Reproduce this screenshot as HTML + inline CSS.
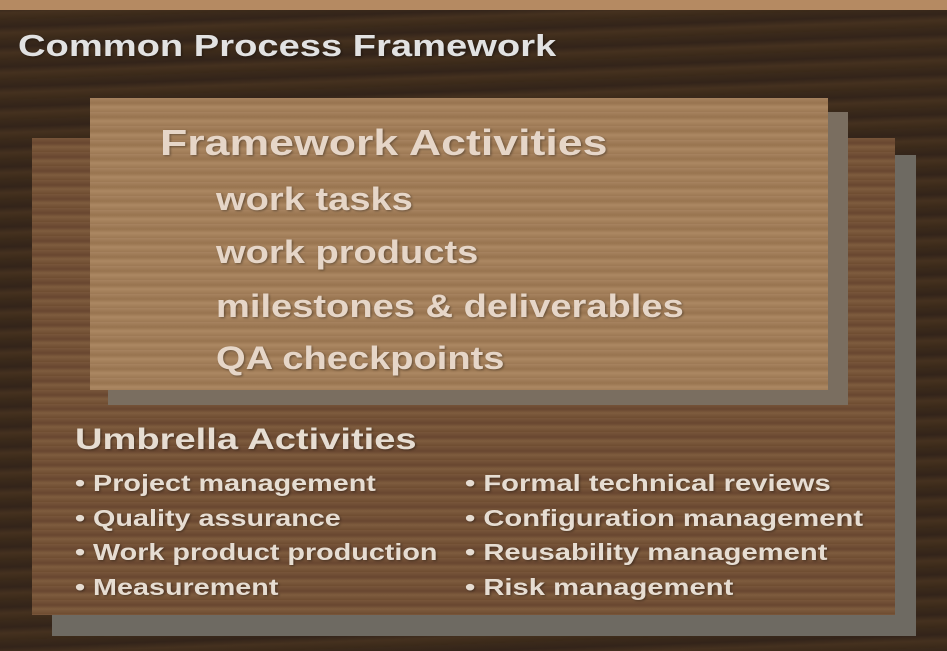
<!DOCTYPE html>
<html><head><meta charset="utf-8"><style>
body{margin:0;width:947px;height:651px;overflow:hidden;position:relative;font-family:"Liberation Sans",sans-serif;font-weight:bold;
background:repeating-linear-gradient(178deg,#3b2a1b 0px,#33241a 7px,#45311f 13px,#3a2919 20px);}
.abs{position:absolute}
.t{color:#e6ddd2;white-space:nowrap;transform-origin:0 0;transform:scaleX(1.24);text-shadow:1px 1px 2px rgba(0,0,0,0.35)}
</style></head><body>
<div class="abs" style="left:0;top:0;width:947px;height:10px;background:#b58a62"></div>
<div class="abs t" style="left:18px;top:28px;font-size:31px;color:#e2e2e2;transform:scaleX(1.23)">Common Process Framework</div>

<div class="abs" style="left:52px;top:155px;width:864px;height:481px;background:#6e6a62"></div>
<div class="abs" style="left:32px;top:138px;width:863px;height:477px;background:repeating-linear-gradient(180deg,#78553a 0px,#684630 5px,#7e5c3e 9px,#6e4c31 14px)"></div>

<div class="abs" style="left:108px;top:112px;width:740px;height:293px;background:#7a6e60"></div>
<div class="abs" style="left:90px;top:98px;width:738px;height:292px;background:repeating-linear-gradient(180deg,#a6825f 0px,#98744f 5px,#ab8762 9px,#9c7854 14px)"></div>

<div class="abs t" style="left:160px;top:122px;font-size:36px;color:#e6d6c8">Framework Activities</div>
<div class="abs t" style="left:216px;top:181px;font-size:32px;color:#e6d6c8;transform:scaleX(1.19)">work tasks</div>
<div class="abs t" style="left:216px;top:234px;font-size:32px;color:#e6d6c8;transform:scaleX(1.19)">work products</div>
<div class="abs t" style="left:216px;top:288px;font-size:32px;color:#e6d6c8;transform:scaleX(1.19)">milestones &amp; deliverables</div>
<div class="abs t" style="left:216px;top:340px;font-size:32px;color:#e6d6c8;transform:scaleX(1.19)">QA checkpoints</div>

<div class="abs t" style="left:75px;top:423px;font-size:30px;transform:scaleX(1.27)">Umbrella Activities</div>
<div class="abs t" style="left:75px;top:466px;font-size:23px;line-height:34.5px;transform:scaleX(1.25)">
• Project management<br>• Quality assurance<br>• Work product production<br>• Measurement</div>
<div class="abs t" style="left:465px;top:466px;font-size:23px;line-height:34.5px;transform:scaleX(1.27)">
• Formal technical reviews<br>• Configuration management<br>• Reusability management<br>• Risk management</div>
</body></html>
